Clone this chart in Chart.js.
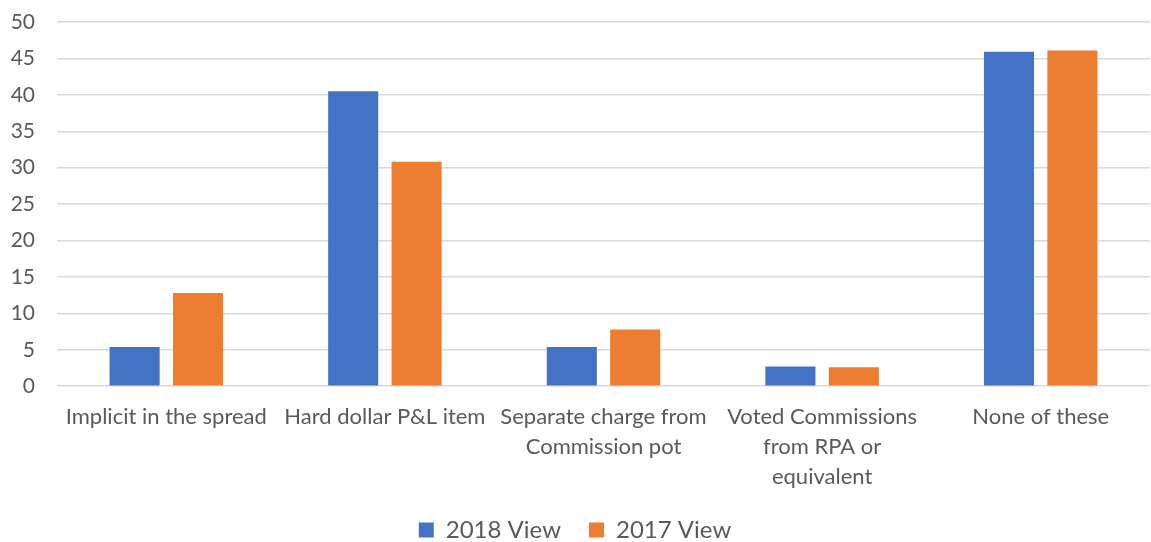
<!DOCTYPE html>
<html>
<head>
<meta charset="utf-8">
<script src="https://cdn.jsdelivr.net/npm/chart.js@4/dist/chart.umd.min.js"></script>
<style>
  html, body { margin: 0; padding: 0; background: #fff; }
  #wrap { width: 1151px; height: 542px; }
</style>
</head>
<body>
<div id="wrap"><canvas id="barChart"></canvas></div>
<script>
const categories = [
  "Implicit in the spread",
  "Hard dollar P&L item",
  ["Separate charge from", "Commission pot"],
  ["Voted Commissions", "from RPA or", "equivalent"],
  "None of these"
];
const view2018 = [5.4, 40.5, 5.4, 2.7, 45.9];
const view2017 = [12.8, 30.8, 7.8, 2.6, 46.1];

const textColor = "#595959";
const fontFamily = "Lato, 'Open Sans', sans-serif";

const ctx = document.getElementById("barChart").getContext("2d");
new Chart(ctx, {
  type: 'bar',
  data: {
    labels: categories,
    datasets: [
      { label: '2018 View', data: view2018, backgroundColor: '#4472C4' },
      { label: '2017 View', data: view2017, backgroundColor: '#ED7D31' }
    ]
  },
  options: {
    responsive: true,
    maintainAspectRatio: false,
    animation: false,
    // negative bottom padding lets the legend sit lower, like the original
    layout: { padding: { top: 0, right: 1, left: 0, bottom: -10 } },
    datasets: {
      bar: { categoryPercentage: 0.58, barPercentage: 0.79 }
    },
    plugins: {
      legend: {
        position: 'bottom',
        labels: {
          color: textColor,
          font: { family: fontFamily, size: 24 },
          boxWidth: 15,
          boxHeight: 15,
          padding: 28
        }
      },
      tooltip: { enabled: false }
    },
    scales: {
      x: {
        grid: { display: false },
        border: { display: false },
        ticks: {
          color: textColor,
          font: { family: fontFamily, size: 22, lineHeight: 1.36 },
          maxRotation: 0,
          autoSkip: false,
          padding: 8
        },
        afterFit: (scale) => { scale.height -= 10; }
      },
      y: {
        min: 0,
        max: 50,
        border: { display: false },
        grid: { color: '#d9d9d9', lineWidth: 1.5, drawTicks: false },
        ticks: {
          stepSize: 5,
          color: textColor,
          font: { family: fontFamily, size: 21 },
          padding: 22
        },
        // fixed axis width and top gap so the plot area lines up with the original
        afterFit: (scale) => { scale.width = 57; scale.paddingTop = 22; }
      }
    }
  }
});
</script>
</body>
</html>
